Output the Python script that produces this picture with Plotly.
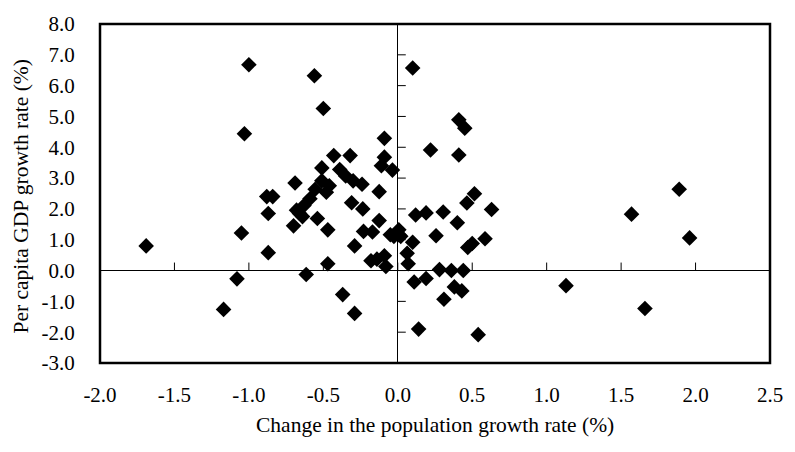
import plotly.graph_objects as go

# Change in the population growth rate (%)
pop_change = [
    -1.69, -1.00, -1.03, -1.05, -1.08, -1.17, -0.88, -0.84, -0.87, -0.87,
    -0.56, -0.50, -0.43, -0.32, -0.51, -0.39, -0.35, -0.30, -0.24, -0.69,
    -0.51, -0.46, -0.48, -0.555, -0.59, -0.63, -0.68, -0.66, -0.64, -0.70,
    -0.54, -0.47, -0.31, -0.235, -0.125, -0.125, -0.23, -0.17, -0.29, -0.18,
    -0.14, -0.09, -0.08, -0.47, -0.615, -0.37, -0.29, -0.09, -0.09, -0.11,
    -0.036, -0.05, 0.007, 0.007, -0.026, 0.02, 0.10, 0.063, 0.07, 0.10,
    0.41, 0.45, 0.22, 0.41, 0.515, 0.464, 0.63, 0.12, 0.19, 0.305,
    0.40, 0.257, 0.586, 0.47, 0.50, 0.28, 0.36, 0.44, 0.11, 0.19,
    0.38, 0.43, 0.31, 0.14, 0.54, 1.13, 1.57, 1.96, 1.66, 1.89,
]
# Per capita GDP growth rate (%)
gdp_growth = [
    0.80, 6.68, 4.44, 1.22, -0.27, -1.26, 2.40, 2.40, 1.85, 0.58,
    6.32, 5.26, 3.73, 3.73, 3.33, 3.28, 3.07, 2.91, 2.80, 2.84,
    2.91, 2.75, 2.54, 2.64, 2.33, 2.11, 1.96, 1.85, 1.75, 1.45,
    1.69, 1.32, 2.20, 2.00, 2.56, 1.62, 1.27, 1.25, 0.80, 0.32,
    0.37, 0.48, 0.13, 0.22, -0.13, -0.78, -1.39, 4.29, 3.68, 3.40,
    3.26, 1.16, 1.16, 1.32, 1.11, 1.11, 0.92, 0.56, 0.22, 6.57,
    4.89, 4.62, 3.91, 3.75, 2.49, 2.19, 1.98, 1.80, 1.87, 1.90,
    1.55, 1.13, 1.03, 0.75, 0.88, 0.03, 0.00, 0.00, -0.37, -0.26,
    -0.53, -0.66, -0.93, -1.90, -2.08, -0.49, 1.83, 1.06, -1.23, 2.64,
]

x_ticks = [-2.0, -1.5, -1.0, -0.5, 0.0, 0.5, 1.0, 1.5, 2.0, 2.5]
y_ticks = [-3.0, -2.0, -1.0, 0.0, 1.0, 2.0, 3.0, 4.0, 5.0, 6.0, 7.0, 8.0]
x_range = [-2.0, 2.5]
y_range = [-3.0, 8.0]

FONT = "Liberation Serif"
TICK_SIZE = 21
TITLE_SIZE = 21.5

fig = go.Figure()
fig.add_trace(go.Scatter(
    x=pop_change, y=gdp_growth, mode="markers",
    marker=dict(symbol="diamond", size=12, color="black", line=dict(width=0)),
    showlegend=False,
))

shapes = []
# tick marks on the axes crossing at zero (x ticks point up, y ticks point right)
for t in x_ticks[1:-1]:
    shapes.append(dict(type="line", xref="x", yref="y", ysizemode="pixel", yanchor=0,
                       x0=t, x1=t, y0=0, y1=8, line=dict(color="black", width=1), layer="below"))
for t in y_ticks[1:-1]:
    shapes.append(dict(type="line", xref="x", yref="y", xsizemode="pixel", xanchor=0,
                       x0=0, x1=8, y0=t, y1=t, line=dict(color="black", width=1), layer="below"))
# outer frame
shapes.append(dict(type="rect", xref="paper", yref="paper", x0=0, x1=1, y0=0, y1=1,
                   line=dict(color="black", width=2.5), fillcolor="rgba(0,0,0,0)", layer="above"))

fig.update_layout(
    width=795, height=452,
    margin=dict(l=100, r=15, t=16, b=89),
    paper_bgcolor="white", plot_bgcolor="white",
    font=dict(family=FONT, color="black", size=TICK_SIZE),
    xaxis=dict(
        range=x_range, tickvals=x_ticks, ticktext=[f"{v:.1f}" for v in x_ticks],
        showgrid=False, zeroline=True, zerolinecolor="black", zerolinewidth=1,
        showline=False, ticks="", ticklabelstandoff=17,
        tickfont=dict(family=FONT, size=TICK_SIZE, color="black"),
    ),
    yaxis=dict(
        range=y_range, tickvals=y_ticks, ticktext=[f"{v:.1f}" for v in y_ticks],
        showgrid=False, zeroline=True, zerolinecolor="black", zerolinewidth=1,
        showline=False, ticks="outside", ticklen=20, tickcolor="rgba(0,0,0,0)",
        tickfont=dict(family=FONT, size=TICK_SIZE, color="black"),
    ),
    shapes=shapes,
    annotations=[
        dict(text="Change in the population growth rate (%)", xref="paper", yref="paper",
             x=0.5, y=0, yshift=-62, xanchor="center", yanchor="middle", showarrow=False,
             font=dict(family=FONT, size=TITLE_SIZE, color="black")),
        dict(text="Per capita GDP growth rate (%)", xref="paper", yref="paper",
             x=0, xshift=-80, y=0.5, yshift=-3, xanchor="center", yanchor="middle", textangle=-90,
             showarrow=False, font=dict(family=FONT, size=TITLE_SIZE, color="black")),
    ],
)

fig.write_html("out.html")
